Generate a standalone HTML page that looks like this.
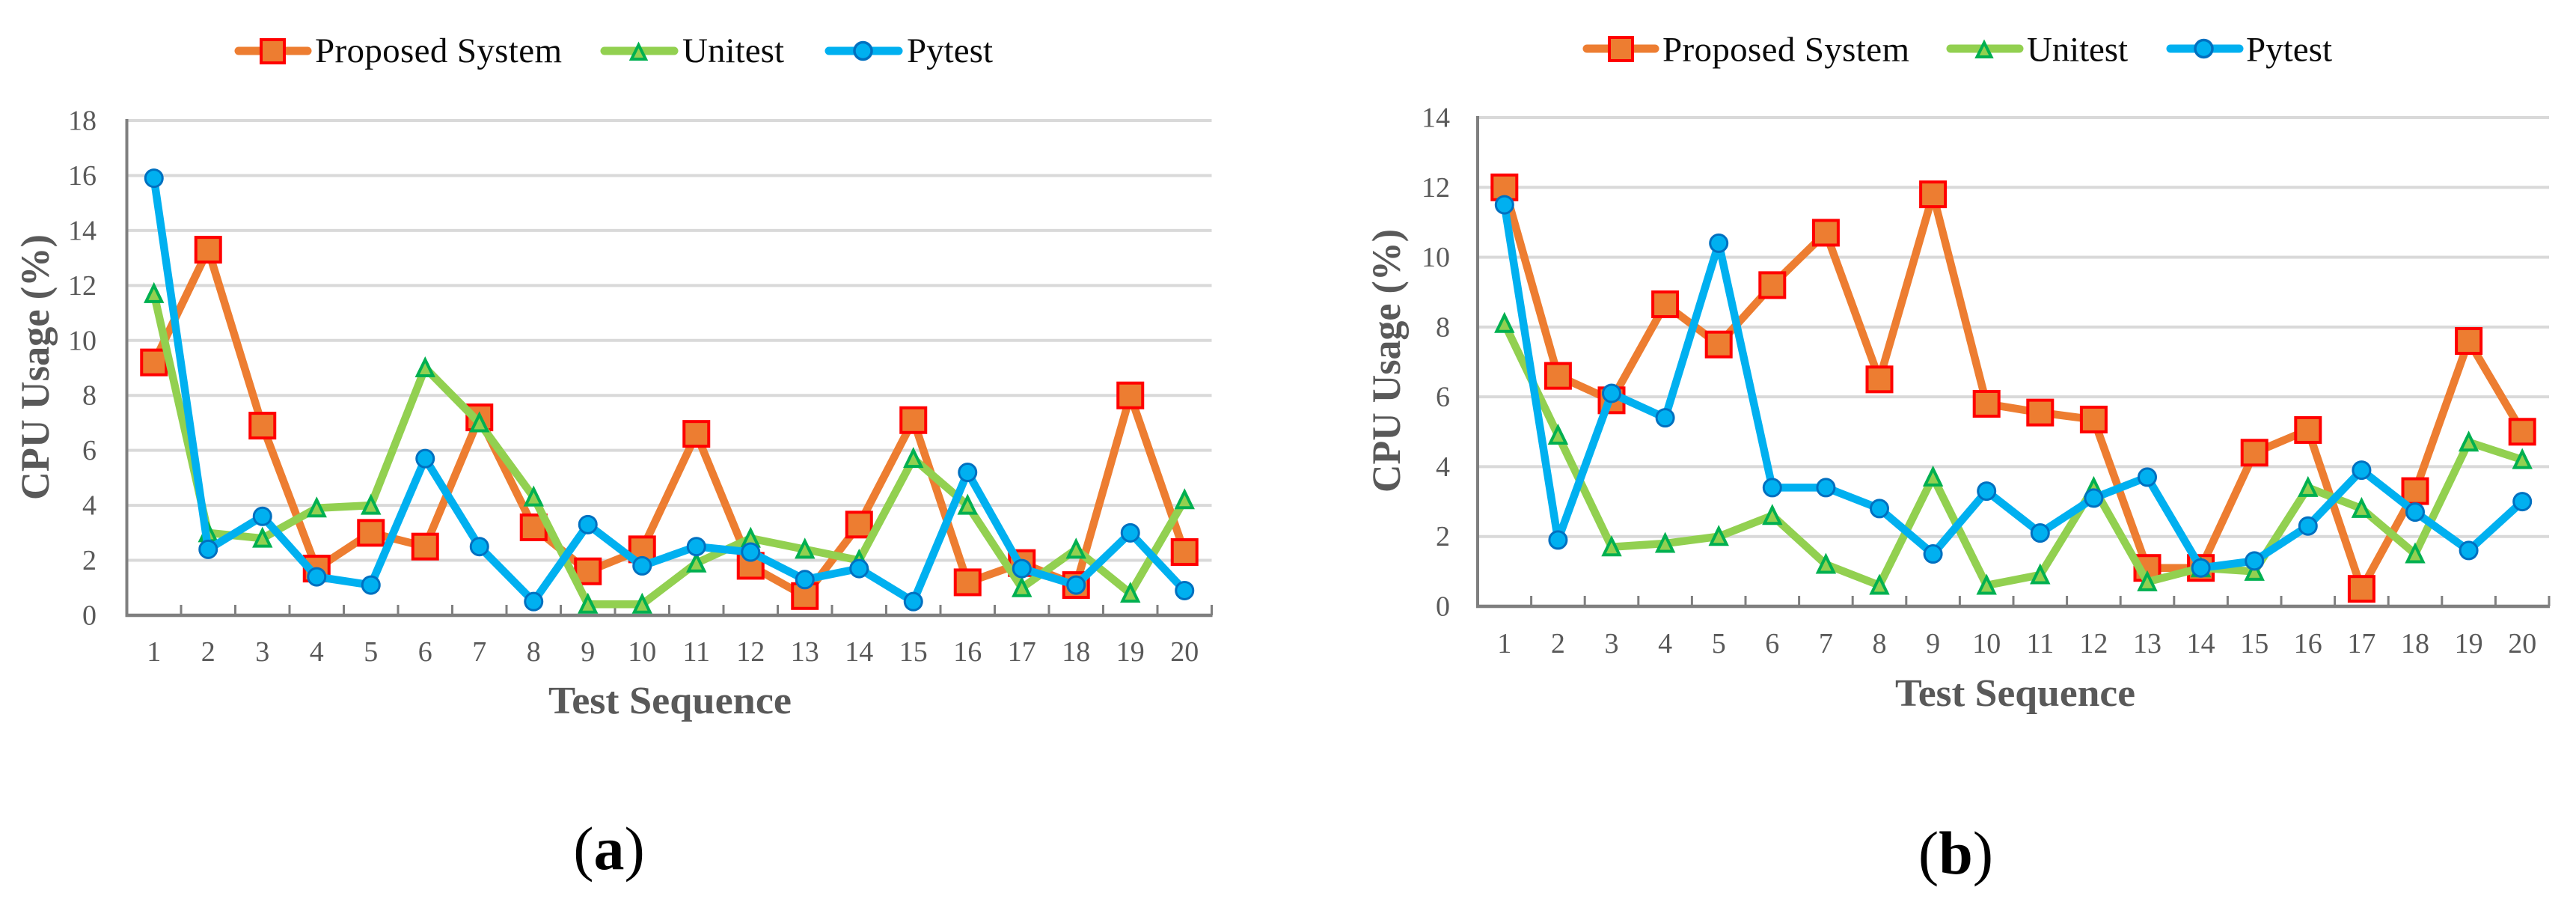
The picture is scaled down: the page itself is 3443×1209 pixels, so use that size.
<!DOCTYPE html>
<html lang="en">
<head>
<meta charset="utf-8">
<title>CPU Usage per Test Sequence</title>
<style>
  html, body { margin: 0; padding: 0; background: #ffffff; }
  svg { display: block; font-family: "Liberation Serif", serif; }
  .legend-text { font-size: 47px; fill: #0a0a0a; }
  .axis-title-x { font-size: 52px; font-weight: bold; fill: #595959; }
  .axis-title-y { font-size: 54px; font-weight: bold; fill: #595959; }
  .tick-text { font-size: 38px; fill: #595959; }
  .caption { font-size: 82px; fill: #000000; }
</style>
</head>
<body>
<svg id="figure" xmlns="http://www.w3.org/2000/svg" width="3443" height="1209" viewBox="0 0 3443 1209">
  <rect x="0" y="0" width="3443" height="1209" fill="#ffffff"/>

  <g id="chart-a"></g>
  <g id="chart-b"></g>

  <g>
    <g>
      <line x1="319" y1="68" x2="411" y2="68" stroke="#ED7D31" stroke-width="11" stroke-linecap="round"/>
      <rect x="349" y="53" width="31" height="31" fill="#ED7D31" stroke="#FF0000" stroke-width="4"/>
      <text class="legend-text" x="421" y="83" textLength="330">Proposed System</text>
    </g>
    <g>
      <line x1="808" y1="68" x2="901" y2="68" stroke="#92D050" stroke-width="11" stroke-linecap="round"/>
      <polygon points="853.5,60 863,79 844,79" fill="#92D050" stroke="#00B050" stroke-width="4"/>
      <text class="legend-text" x="912" y="83" textLength="136">Unitest</text>
    </g>
    <g>
      <line x1="1108" y1="68" x2="1201" y2="68" stroke="#00B0F0" stroke-width="11" stroke-linecap="round"/>
      <circle cx="1153.5" cy="68" r="11.5" fill="#00B0F0" stroke="#0070C0" stroke-width="3.5"/>
      <text class="legend-text" x="1212" y="83" textLength="115">Pytest</text>
    </g>
  </g>

  <g>
    <g>
      <line x1="2121" y1="65" x2="2212" y2="65" stroke="#ED7D31" stroke-width="11" stroke-linecap="round"/>
      <rect x="2151" y="50" width="31" height="31" fill="#ED7D31" stroke="#FF0000" stroke-width="4"/>
      <text class="legend-text" x="2222" y="81.5" textLength="330">Proposed System</text>
    </g>
    <g>
      <line x1="2607" y1="65" x2="2699" y2="65" stroke="#92D050" stroke-width="11" stroke-linecap="round"/>
      <polygon points="2652,57 2661.5,76 2642.5,76" fill="#92D050" stroke="#00B050" stroke-width="4"/>
      <text class="legend-text" x="2709" y="81.5" textLength="135">Unitest</text>
    </g>
    <g>
      <line x1="2901" y1="65" x2="2993" y2="65" stroke="#00B0F0" stroke-width="11" stroke-linecap="round"/>
      <circle cx="2945.5" cy="65" r="11.5" fill="#00B0F0" stroke="#0070C0" stroke-width="3.5"/>
      <text class="legend-text" x="3002" y="81.5" textLength="115">Pytest</text>
    </g>
  </g>

  <text class="axis-title-y" transform="translate(65,668) rotate(-90)" textLength="355" lengthAdjust="spacingAndGlyphs">CPU Usage (%)</text>
  <text class="axis-title-x" x="733" y="953" textLength="325" lengthAdjust="spacingAndGlyphs">Test Sequence</text>
  <text class="axis-title-y" transform="translate(1871,658) rotate(-90)" textLength="352" lengthAdjust="spacingAndGlyphs">CPU Usage (%)</text>
  <text class="axis-title-x" x="2533" y="943" textLength="321" lengthAdjust="spacingAndGlyphs">Test Sequence</text>

  <text class="caption" x="814" y="1161" text-anchor="middle">(<tspan font-weight="bold">a</tspan>)</text>
  <text class="caption" x="2614" y="1167" text-anchor="middle">(<tspan font-weight="bold">b</tspan>)</text>
</svg>

<script>
var categories = ["1","2","3","4","5","6","7","8","9","10","11","12","13","14","15","16","17","18","19","20"];

var yTicksA = [0,2,4,6,8,10,12,14,16,18];
var proposedA = [9.2,13.3,6.9,1.7,3,2.5,7.2,3.2,1.6,2.4,6.6,1.8,0.7,3.3,7.1,1.2,1.9,1.1,8,2.3];
var unitestA = [11.7,3,2.8,3.9,4,9,7,4.3,0.4,0.4,1.9,2.8,2.4,2,5.7,4,1,2.4,0.8,4.2];
var pytestA = [15.9,2.4,3.6,1.4,1.1,5.7,2.5,0.5,3.3,1.8,2.5,2.3,1.3,1.7,0.5,5.2,1.7,1.1,3,0.9];

var yTicksB = [0,2,4,6,8,10,12,14];
var proposedB = [12,6.6,5.9,8.65,7.5,9.2,10.7,6.5,11.8,5.8,5.55,5.35,1.1,1.1,4.4,5.05,0.5,3.3,7.6,5];
var unitestB = [8.1,4.9,1.7,1.8,2,2.6,1.2,0.6,3.7,0.6,0.9,3.4,0.7,1.1,1,3.4,2.8,1.5,4.7,4.2];
var pytestB = [11.5,1.9,6.1,5.4,10.4,3.4,3.4,2.8,1.5,3.3,2.1,3.1,3.7,1.1,1.3,2.3,3.9,2.7,1.6,3];

var SVGNS = "http://www.w3.org/2000/svg";

function make(tag, attrs, parent) {
  var el = document.createElementNS(SVGNS, tag);
  for (var k in attrs) { el.setAttribute(k, attrs[k]); }
  parent.appendChild(el);
  return el;
}

function drawChart(root, suffix, box, yTicks, proposed, unitest, pytest) {
  var yMax = yTicks[yTicks.length - 1];
  var right = box.left + box.band * categories.length;
  function xAt(i) { return box.left + box.band * (i + 0.5); }
  function yAt(v) { return box.bottom - (box.bottom - box.top) * v / yMax; }

  yTicks.forEach(function (t) {
    if (t !== 0) {
      var grid = make("line", { x1: box.left, x2: right, y1: yAt(t), y2: yAt(t), stroke: "#D9D9D9", "stroke-width": 4 }, root);
      
      
    }
    var label = make("text", { x: box.labelRight, y: yAt(t) + 12.5, "text-anchor": "end", "class": "tick-text" }, root);
    label.textContent = String(t);
    
    
  });

  var yAxis = make("line", { x1: box.left, x2: box.left, y1: box.top - 2, y2: box.bottom + 2, stroke: "#7F7F7F", "stroke-width": 4 }, root);
  
  
  var xAxis = make("line", { x1: box.left - 2, x2: right + 1, y1: box.bottom, y2: box.bottom, stroke: "#7F7F7F", "stroke-width": 4.5 }, root);
  
  

  for (var t = 1; t <= categories.length; t++) {
    var tx = box.left + box.band * t;
    var tick = make("line", { x1: tx, x2: tx, y1: box.bottom - 14, y2: box.bottom, stroke: "#7F7F7F", "stroke-width": 3 }, root);
    
    
  }

  categories.forEach(function (c, i) {
    var label = make("text", { x: xAt(i), y: box.xLabelY, "text-anchor": "middle", "class": "tick-text" }, root);
    label.textContent = c;
    
    
  });

  function series(name, values, color, markerFn) {
    var group = make("g", {}, root);
    
    
    var pts = values.map(function (v, i) { return xAt(i) + "," + yAt(v); }).join(" ");
    var line = make("polyline", { points: pts, fill: "none", stroke: color, "stroke-width": 10.5, "stroke-linejoin": "round", "stroke-linecap": "round" }, group);
    
    
    values.forEach(function (v, i) {
      var m = markerFn(xAt(i), yAt(v), group);
      
      
    });
  }

  series("proposed-system", proposed, "#ED7D31", function (x, y, g) {
    return make("rect", { x: x - 16.5, y: y - 16.5, width: 33, height: 33, fill: "#ED7D31", stroke: "#FF0000", "stroke-width": 4 }, g);
  });
  series("unitest", unitest, "#92D050", function (x, y, g) {
    var p = [[x, y - 11], [x + 10.5, y + 10.5], [x - 10.5, y + 10.5]].map(function (q) { return q.join(","); }).join(" ");
    return make("polygon", { points: p, fill: "#92D050", stroke: "#00B050", "stroke-width": 4 }, g);
  });
  series("pytest", pytest, "#00B0F0", function (x, y, g) {
    return make("circle", { cx: x, cy: y, r: 11.5, fill: "#00B0F0", stroke: "#0070C0", "stroke-width": 3 }, g);
  });
}

drawChart(document.getElementById("chart-a"), "a",
  { left: 169.5, band: 72.5, top: 161, bottom: 822, labelRight: 129, xLabelY: 883 },
  yTicksA, proposedA, unitestA, pytestA);

drawChart(document.getElementById("chart-b"), "b",
  { left: 1975, band: 71.6, top: 157, bottom: 810, labelRight: 1938, xLabelY: 872 },
  yTicksB, proposedB, unitestB, pytestB);
</script>
</body>
</html>
